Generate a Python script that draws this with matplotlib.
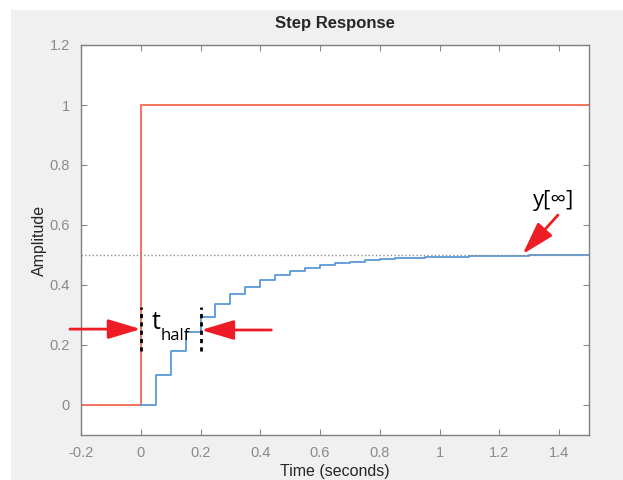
import numpy as np
import matplotlib.pyplot as plt
from matplotlib.patches import Rectangle

plt.rcParams['font.family'] = ['Liberation Sans', 'DejaVu Sans']

# Entrada escalón
t_in = [-0.2, 0.0, 0.0, 1.5]
u_in = [0.0, 0.0, 1.0, 1.0]

# Respuesta discreta (Ts = 0.05)
t_k = [0.00, 0.05, 0.10, 0.15, 0.20, 0.25, 0.30, 0.35, 0.40, 0.45,
       0.50, 0.55, 0.60, 0.65, 0.70, 0.75, 0.80, 0.85, 0.90, 0.95,
       1.00, 1.05, 1.10, 1.15, 1.20, 1.25, 1.30, 1.35, 1.40, 1.45, 1.50]
y_k = [0.000, 0.100, 0.180, 0.244, 0.295, 0.336, 0.369, 0.395, 0.416, 0.433,
       0.446, 0.457, 0.466, 0.473, 0.478, 0.482, 0.486, 0.489, 0.491, 0.493,
       0.494, 0.495, 0.496, 0.497, 0.498, 0.498, 0.499, 0.499, 0.499, 0.499, 0.500]
y_final = 0.5
t_half = [0.0, 0.2]
y_half = 0.25

ann_font = ['Open Sans', 'DejaVu Sans']
red = '#ee1c25'
arrow_style = '-|>,head_length=2.0,head_width=0.6'

fig = plt.figure(figsize=(6.23, 4.8), dpi=100, facecolor='white')
# fondo gris tipo MATLAB
fig.patches.append(Rectangle((11 / 623, 0), 1, 1 - 10 / 480, transform=fig.transFigure,
                             facecolor='#f0f0f0', edgecolor='none', zorder=-10))
ax = fig.add_axes([81 / 623, 45 / 480, 508 / 623, 390 / 480])

ax.plot(t_in, u_in, color='#f5745f', lw=1.4)
ax.step(t_k, y_k, where='post', color='#5a9ad8', lw=1.3)
ax.axhline(y_final, color='#8c8c8c', ls=':', lw=1.0)

# marcas de t_half
for tx in t_half:
    ax.plot([tx, tx], [0.18, 0.327], color='black', ls=(0, (1.5, 1.5)), lw=2)
ax.annotate('', xy=(t_half[0], y_half + 0.003), xytext=(-0.237, y_half + 0.003),
            annotation_clip=False,
            arrowprops=dict(arrowstyle=arrow_style, color=red, lw=2, shrinkA=0, shrinkB=0))
ax.annotate('', xy=(t_half[1] + 0.002, y_half), xytext=(0.437, y_half),
            arrowprops=dict(arrowstyle=arrow_style, color=red, lw=2, shrinkA=0, shrinkB=0))
ax.text(0.035, 0.253, 't', family=ann_font, fontsize=18, color='black',
        va='baseline', ha='left')
ax.text(0.068, 0.217, 'half', family=ann_font, fontsize=12, color='black',
        va='baseline', ha='left')

ax.text(1.38, 0.683, 'y[∞]', family=ann_font, fontsize=16,
        ha='center', va='center', color='black')
ax.annotate('', xy=(1.278, 0.503), xytext=(1.396, 0.633),
            arrowprops=dict(arrowstyle=arrow_style, color=red, lw=2, shrinkA=0, shrinkB=0))

ax.set_xlim(-0.2, 1.5)
ax.set_ylim(-0.1, 1.2)
ax.set_xticks(np.arange(-0.2, 1.41, 0.2))
ax.set_xticklabels(['-0.2', '0', '0.2', '0.4', '0.6', '0.8', '1', '1.2', '1.4'])
ax.set_yticks(np.arange(0, 1.21, 0.2))
ax.set_yticklabels(['0', '0.2', '0.4', '0.6', '0.8', '1', '1.2'])
ax.tick_params(direction='in', top=True, right=True, length=4, width=0.8,
               colors='#8a8a8a', labelsize=10.5, pad=8)
for s in ax.spines.values():
    s.set_color('#808080')
    s.set_linewidth(1.0)

ax.set_title('Step Response', fontsize=12, fontweight='bold', color='#262626', pad=12)
ax.set_xlabel('Time (seconds)', fontsize=11.5, color='#262626', labelpad=3)
ax.set_ylabel('Amplitude', fontsize=11.5, color='#262626', labelpad=2)

fig.savefig('out.png', dpi=100, facecolor=fig.get_facecolor())
